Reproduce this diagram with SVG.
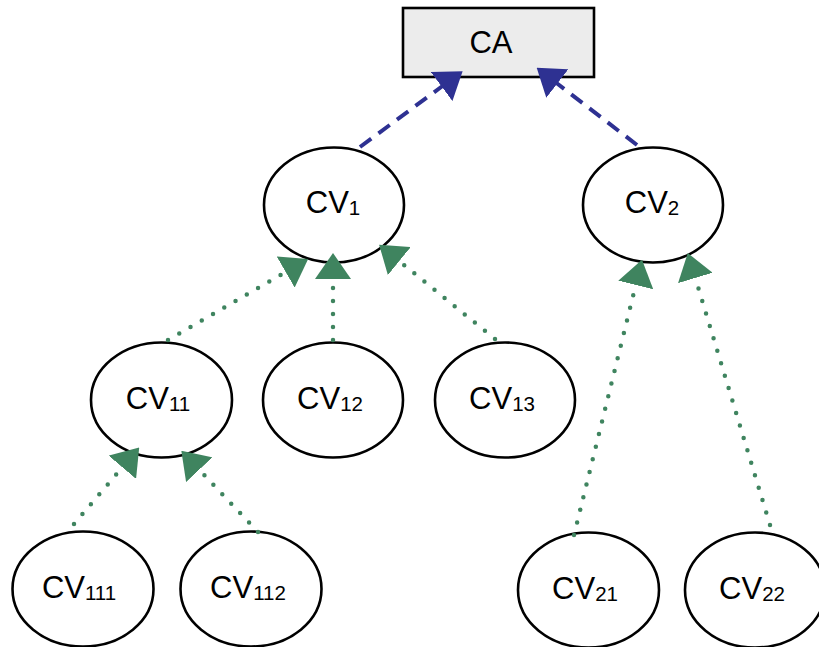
<svg xmlns="http://www.w3.org/2000/svg" width="819" height="647" viewBox="0 0 819 647">
<style>
.node ellipse, .node rect { stroke: #000; stroke-width: 2.6; fill: #fff; }
.node rect { fill: #ececec; }
.lbl { font-family: "Liberation Sans", Arial, sans-serif; font-size: 31px; fill: #000; text-anchor: middle; }
.sub { font-size: 20.5px; }
.dash { fill: none; stroke: #2e3192; stroke-width: 4; stroke-dasharray: 14 9; marker-end: url(#ab); }
.dot { fill: none; stroke: #3f845f; stroke-width: 4.5; stroke-linecap: round; stroke-dasharray: 0 13; marker-end: url(#ag); }
</style>
<defs>
<marker id="ab" markerUnits="userSpaceOnUse" viewBox="0 0 26 36" markerWidth="26" markerHeight="36" refX="1" refY="18" orient="auto"><path d="M0,0 L26,18 L0,36 z" fill="#2e3192"/></marker>
<marker id="ag" markerUnits="userSpaceOnUse" viewBox="0 0 26 36" markerWidth="26" markerHeight="36" refX="1" refY="18" orient="auto"><path d="M0,0 L26,18 L0,36 z" fill="#3f845f"/></marker>
</defs>
<rect width="819" height="647" fill="#fff"/>
<g id="CA" class="node"><rect x="403" y="8" width="191" height="69"/><text class="lbl" x="491" y="53">CA</text></g>
<g id="CV1" class="node"><ellipse cx="334" cy="205" rx="70" ry="57.5"/><text class="lbl" x="333" y="213">CV<tspan class="sub" dy="2">1</tspan></text></g>
<g id="CV2" class="node"><ellipse cx="653" cy="205" rx="70" ry="57.5"/><text class="lbl" x="652" y="213">CV<tspan class="sub" dy="2">2</tspan></text></g>
<g id="CV11" class="node"><ellipse cx="161.5" cy="400" rx="70.5" ry="57.5"/><text class="lbl" x="158" y="409">CV<tspan class="sub" dy="2">11</tspan></text></g>
<g id="CV12" class="node"><ellipse cx="333" cy="400" rx="70" ry="57.5"/><text class="lbl" x="330" y="409">CV<tspan class="sub" dy="2">12</tspan></text></g>
<g id="CV13" class="node"><ellipse cx="505" cy="400" rx="70" ry="57.5"/><text class="lbl" x="502" y="409">CV<tspan class="sub" dy="2">13</tspan></text></g>
<g id="CV111" class="node"><ellipse cx="83" cy="589" rx="70.5" ry="57.5"/><text class="lbl" x="79" y="598">CV<tspan class="sub" dy="2">111</tspan></text></g>
<g id="CV112" class="node"><ellipse cx="251" cy="589" rx="70.5" ry="57.5"/><text class="lbl" x="248" y="598">CV<tspan class="sub" dy="2">112</tspan></text></g>
<g id="CV21" class="node"><ellipse cx="588.5" cy="590" rx="70.5" ry="57.5"/><text class="lbl" x="585" y="599">CV<tspan class="sub" dy="2">21</tspan></text></g>
<g id="CV22" class="node"><ellipse cx="755" cy="590" rx="70" ry="57.5"/><text class="lbl" x="752" y="599">CV<tspan class="sub" dy="2">22</tspan></text></g>
<g id="edges">
<path class="dash" d="M360,147 L442.5,86"/>
<path class="dash" d="M637,145 L556.5,83"/>
<path class="dot" d="M168,340 L286.5,271.5"/>
<path class="dot" d="M333,340 L333,278"/>
<path class="dot" d="M495,339 L398.5,260.5"/>
<path class="dot" d="M574,535 L636,284"/>
<path class="dot" d="M770,525 L695,277"/>
<path class="dot" d="M74,524 L123,466.5"/>
<path class="dot" d="M258,532 L198.5,469"/>
</g>
</svg>
